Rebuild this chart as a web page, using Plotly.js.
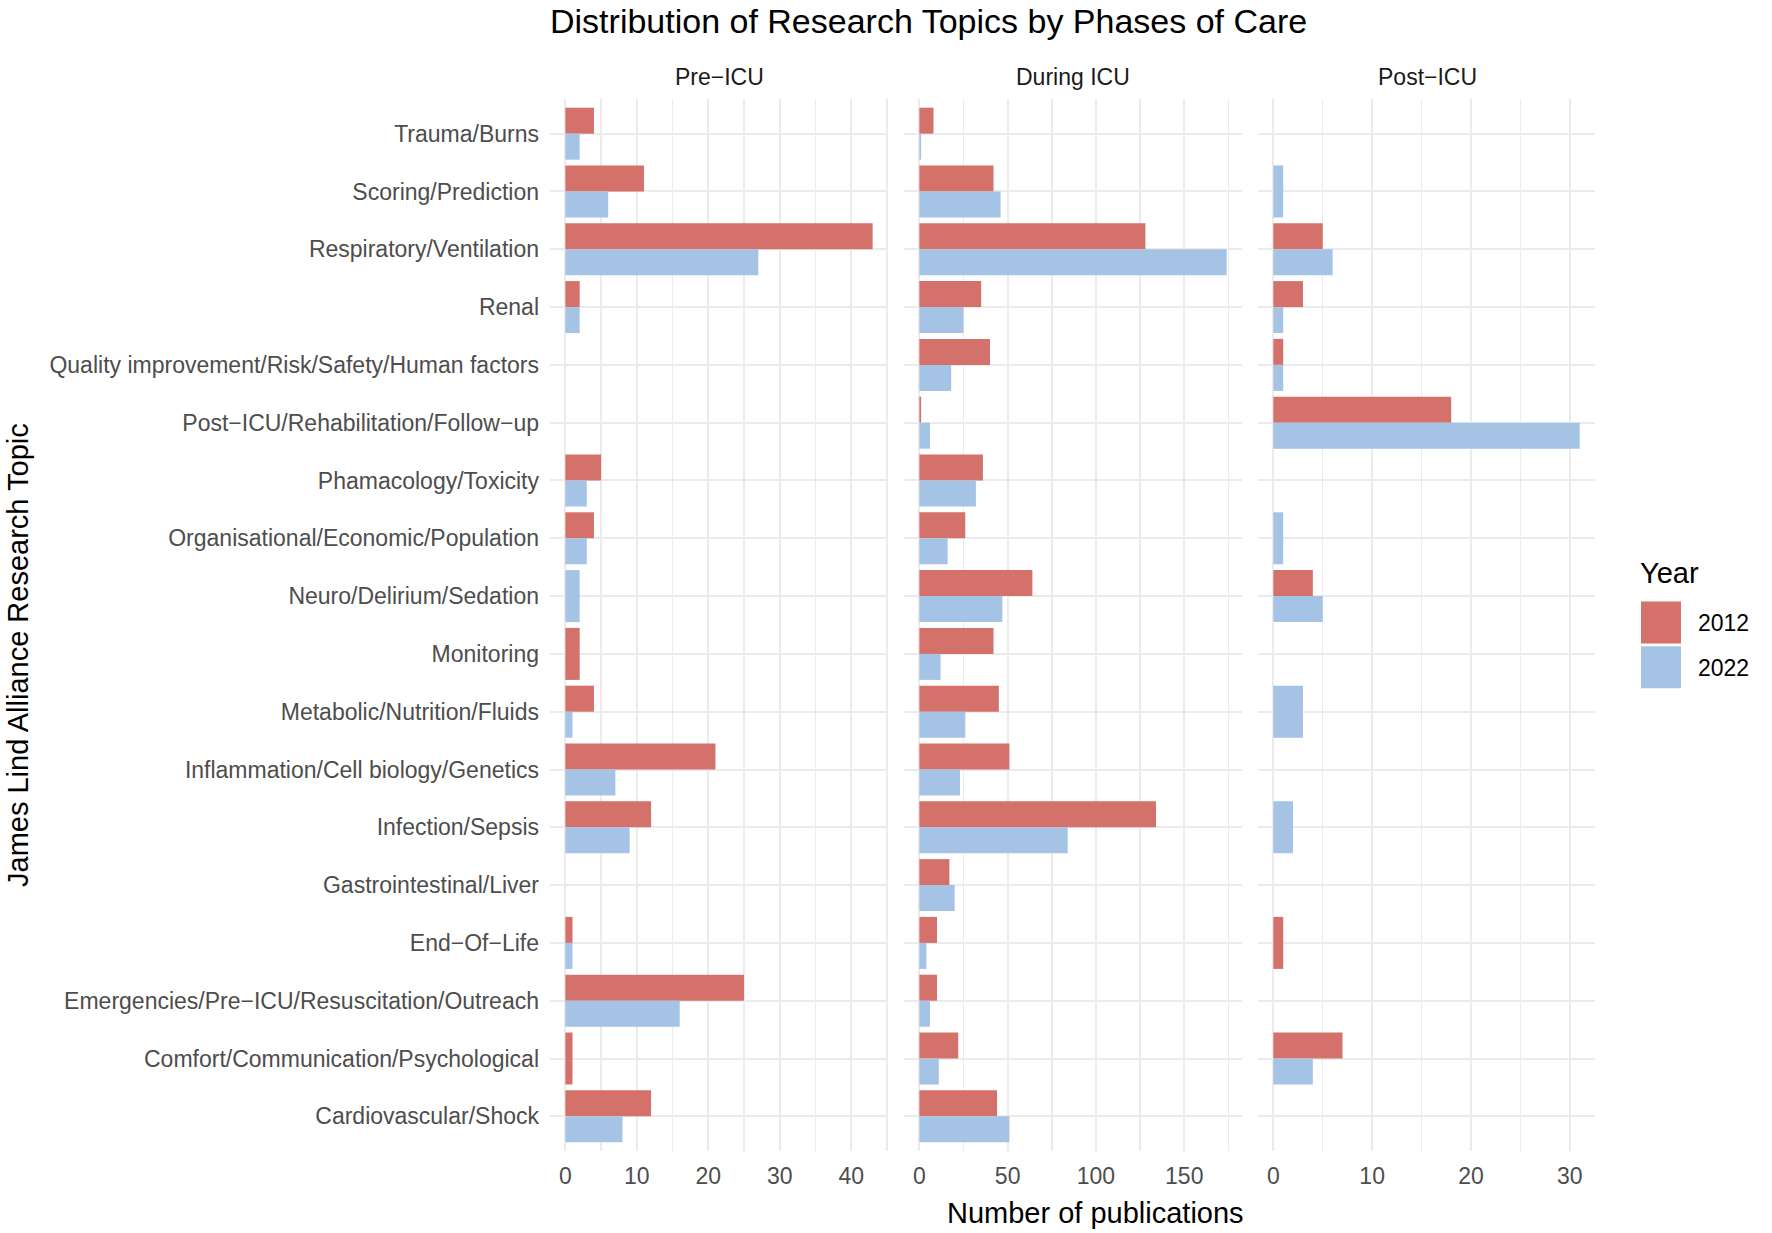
<!DOCTYPE html>
<html>
<head>
<meta charset="utf-8">
<script src="https://cdn.plot.ly/plotly-3.0.1.min.js"></script>
<style>
  html, body { margin: 0; padding: 0; background: #fff; }
  #chart { width: 1772px; height: 1233px; }
</style>
</head>
<body>
<div id="chart"></div>
<script>
'use strict';

// topics, top to bottom as in the figure
var topics = [
    'Trauma/Burns',
    'Scoring/Prediction',
    'Respiratory/Ventilation',
    'Renal',
    'Quality improvement/Risk/Safety/Human factors',
    'Post\u2212ICU/Rehabilitation/Follow\u2212up',
    'Phamacology/Toxicity',
    'Organisational/Economic/Population',
    'Neuro/Delirium/Sedation',
    'Monitoring',
    'Metabolic/Nutrition/Fluids',
    'Inflammation/Cell biology/Genetics',
    'Infection/Sepsis',
    'Gastrointestinal/Liver',
    'End\u2212Of\u2212Life',
    'Emergencies/Pre\u2212ICU/Resuscitation/Outreach',
    'Comfort/Communication/Psychological',
    'Cardiovascular/Shock'
];

var phases = ['Pre\u2212ICU', 'During ICU', 'Post\u2212ICU'];
var years = ['2012', '2022'];

// null = no publications for that year (bar missing)
var pre2012    = [4, 11, 43, 2, null, null, 5, 4, null, 2, 4, 21, 12, null, 1, 25, 1, 12];
var pre2022    = [2, 6, 27, 2, null, null, 3, 3, 2, null, 1, 7, 9, null, 1, 16, null, 8];
var during2012 = [8, 42, 128, 35, 40, 1, 36, 26, 64, 42, 45, 51, 134, 17, 10, 10, 22, 44];
var during2022 = [1, 46, 174, 25, 18, 6, 32, 16, 47, 12, 26, 23, 84, 20, 4, 6, 11, 51];
var post2012   = [null, null, 5, 3, 1, 18, null, null, 4, null, null, null, null, null, 1, null, 7, null];
var post2022   = [null, 1, 6, 1, 1, 31, null, 1, 5, null, 3, null, 2, null, null, null, 4, null];

var series = [[pre2012, pre2022], [during2012, during2022], [post2012, post2022]];

var colors = ['#D5716B', '#A5C3E5'];
var gridColor = '#EBEBEB';
var tickSteps = [10, 50, 10];
var FONT = '"Liberation Sans", Arial, Helvetica, sans-serif';

// panel layout in pixels (ggplot facet look)
var W = 1772, H = 1233;
var marg = {l: 550, r: 177, t: 99, b: 82};
var plotW = W - marg.l - marg.r;
var plotH = H - marg.t - marg.b;
var panelW = 338, gap = 16;

function px2x(px) { return (px - marg.l) / plotW; }
function px2y(py) { return (H - marg.b - py) / plotH; }

var data = [];
var layout = {
    width: W,
    height: H,
    margin: marg,
    paper_bgcolor: '#fff',
    plot_bgcolor: '#fff',
    barmode: 'overlay',
    font: {family: FONT, color: '#000'},
    title: {
        text: 'Distribution of Research Topics by Phases of Care',
        font: {family: FONT, size: 34, color: '#000'},
        x: marg.l / W, xanchor: 'left', xref: 'container',
        y: 1 - 21 / H, yanchor: 'middle', yref: 'container'
    },
    yaxis: {
        type: 'category',
        categoryorder: 'array',
        categoryarray: topics,
        range: [topics.length - 0.4, -0.6],
        showgrid: true,
        gridcolor: gridColor,
        gridwidth: 2,
        zeroline: false,
        showline: false,
        ticks: '',
        ticklabelstandoff: 10,
        tickfont: {family: FONT, size: 23, color: '#4D4D4D'},
        automargin: false
    },
    legend: {
        x: px2x(1624), xanchor: 'left',
        y: px2y(601), yanchor: 'top',
        font: {family: FONT, size: 23, color: '#000'},
        itemwidth: 64,
        traceorder: 'grouped',
        tracegroupgap: 12,
        bgcolor: 'rgba(0,0,0,0)'
    },
    annotations: [],
    showlegend: true
};

phases.forEach(function(phase, p) {
    var xname = p === 0 ? 'x' : 'x' + (p + 1);
    var axname = p === 0 ? 'xaxis' : 'xaxis' + (p + 1);
    var pair = series[p];

    // free x scale per facet, 5% padding like ggplot
    var maxVal = 0;
    pair.forEach(function(arr) {
        arr.forEach(function(v) { if (v !== null && v > maxVal) maxVal = v; });
    });

    var left = marg.l + p * (panelW + gap);
    layout[axname] = {
        domain: [px2x(left), px2x(left + panelW)],
        anchor: 'y',
        range: [-0.05 * maxVal, 1.05 * maxVal],
        dtick: tickSteps[p],
        tick0: 0,
        showgrid: true,
        gridcolor: gridColor,
        gridwidth: 2,
        minor: {dtick: tickSteps[p] / 2, tick0: 0, showgrid: true, gridcolor: gridColor, gridwidth: 1.5, ticks: ''},
        zeroline: false,
        showline: false,
        ticks: '',
        ticklabelstandoff: 9,
        tickfont: {family: FONT, size: 23, color: '#4D4D4D'},
        automargin: false
    };

    // facet strip label
    layout.annotations.push({
        text: phase,
        xref: 'paper', yref: 'paper',
        x: px2x(left + panelW / 2), y: px2y(77),
        xanchor: 'center', yanchor: 'middle',
        showarrow: false,
        font: {family: FONT, size: 23, color: '#1A1A1A'}
    });

    years.forEach(function(year, k) {
        var vals = pair[k];
        var other = pair[1 - k];
        var offs = [], widths = [];
        // dodge: 2012 upper half, 2022 lower half; a lone bar fills the slot
        for (var i = 0; i < topics.length; i++) {
            var alone = other[i] === null;
            offs.push(alone || k === 0 ? -0.45 : 0);
            widths.push(alone ? 0.9 : 0.45);
        }
        data.push({
            type: 'bar',
            orientation: 'h',
            name: year,
            legendgroup: year,
            showlegend: p === 0,
            x: vals,
            y: topics,
            xaxis: xname,
            yaxis: 'y',
            offset: offs,
            width: widths,
            marker: {color: colors[k], line: {width: 0}},
            hoverinfo: 'x+y+name'
        });
    });
});

layout.annotations.push({
    text: 'Number of publications',
    xref: 'paper', yref: 'paper',
    x: px2x(1095), y: px2y(1213),
    xanchor: 'center', yanchor: 'middle',
    showarrow: false,
    font: {family: FONT, size: 29, color: '#000'}
});
layout.annotations.push({
    text: 'James Lind Alliance Research Topic',
    xref: 'paper', yref: 'paper',
    x: px2x(18), y: px2y(655),
    xanchor: 'center', yanchor: 'middle',
    textangle: -90,
    showarrow: false,
    font: {family: FONT, size: 29, color: '#000'}
});
// legend title, kept apart so it sits above the keys like ggplot
layout.annotations.push({
    text: 'Year',
    xref: 'paper', yref: 'paper',
    x: px2x(1638), y: px2y(573),
    xanchor: 'left', yanchor: 'middle',
    showarrow: false,
    font: {family: FONT, size: 29, color: '#000'}
});

Plotly.newPlot('chart', data, layout, {staticPlot: true, displayModeBar: false})
    .then(function(gd) {
        // ggplot-style big legend keys
        var keys = gd.querySelectorAll('.legendpoints path');
        keys.forEach(function(k) {
            k.setAttribute('d', 'M20,21H-20V-21H20Z');
        });
    });
</script>
</body>
</html>
